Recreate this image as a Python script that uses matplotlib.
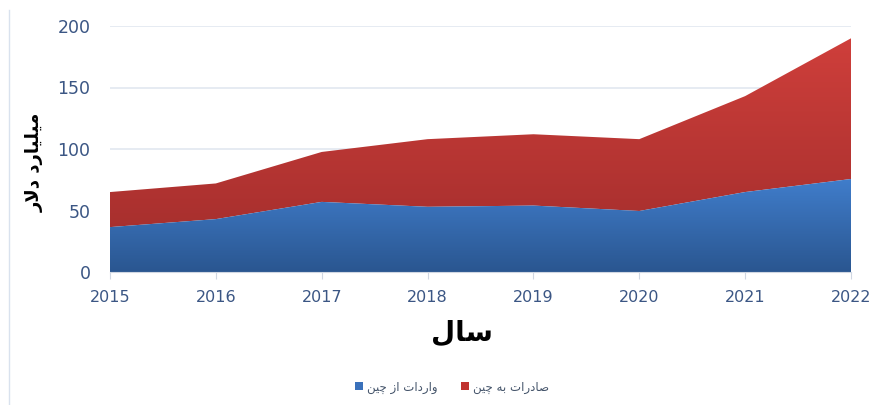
import numpy as np
import matplotlib.pyplot as plt
from matplotlib.colors import LinearSegmentedColormap
from matplotlib.lines import Line2D
from matplotlib.patches import Patch

years = [2015, 2016, 2017, 2018, 2019, 2020, 2021, 2022]
imports_from_china = [36.5, 43, 57, 53, 54, 49.6, 65, 75.6]   # blue, bottom
exports_to_china = [28.5, 29, 40.6, 55, 58, 58.4, 78, 114.4]  # red, stacked on top

ylabel_txt = "میلیارد دلار"
xlabel_txt = "سال"
legend_imports = "واردات از چین"
legend_exports = "صادرات به چین"

# --- minimal Arabic/Persian shaping (matplotlib has no text shaping) ---
# letter: (isolated, final, initial, medial); None initial => right-joining only
FORMS = {
    "ا": ("\uFE8D", "\uFE8E", None, None),
    "ب": ("\uFE8F", "\uFE90", "\uFE91", "\uFE92"),
    "ت": ("\uFE95", "\uFE96", "\uFE97", "\uFE98"),
    "د": ("\uFEA9", "\uFEAA", None, None),
    "ر": ("\uFEAD", "\uFEAE", None, None),
    "ز": ("\uFEAF", "\uFEB0", None, None),
    "س": ("\uFEB1", "\uFEB2", "\uFEB3", "\uFEB4"),
    "ص": ("\uFEB9", "\uFEBA", "\uFEBB", "\uFEBC"),
    "ل": ("\uFEDD", "\uFEDE", "\uFEDF", "\uFEE0"),
    "م": ("\uFEE1", "\uFEE2", "\uFEE3", "\uFEE4"),
    "ن": ("\uFEE5", "\uFEE6", "\uFEE7", "\uFEE8"),
    "ه": ("\uFEE9", "\uFEEA", "\uFEEB", "\uFEEC"),
    "و": ("\uFEED", "\uFEEE", None, None),
    "ی": ("\uFBFC", "\uFBFD", "\uFEF3", "\uFEF4"),
    "چ": ("\uFB7A", "\uFB7B", "\uFB7C", "\uFB7D"),
}
LAM_ALEF = ("\uFEFB", "\uFEFC")


def shape(text):
    words = []
    for word in text.split(" "):
        # merge lam + alef
        chars = []
        i = 0
        while i < len(word):
            if word[i] == "ل" and i + 1 < len(word) and word[i + 1] == "ا":
                chars.append("LA")
                i += 2
            else:
                chars.append(word[i])
                i += 1

        def joins_left(c):
            return c != "LA" and FORMS[c][2] is not None

        out = []
        for k, c in enumerate(chars):
            prev_joins = k > 0 and joins_left(chars[k - 1])
            next_exists = k + 1 < len(chars)
            if c == "LA":
                out.append(LAM_ALEF[1] if prev_joins else LAM_ALEF[0])
                continue
            iso, fin, ini, med = FORMS[c]
            can_left = ini is not None and next_exists
            if prev_joins and can_left:
                out.append(med)
            elif prev_joins:
                out.append(fin)
            elif can_left:
                out.append(ini)
            else:
                out.append(iso)
        words.append("".join(out))
    # visual order for left-to-right rendering
    return " ".join(words)[::-1]


TICK_COLOR = "#3b5684"
GRID_COLOR = "#e1e7f0"

fig = plt.figure(figsize=(8.74, 4.05), dpi=100)
ax = fig.add_axes([110 / 874, 133 / 405, 741 / 874, 246 / 405])

x = np.array(years, dtype=float)
blue = np.array(imports_from_china)
total = blue + np.array(exports_to_china)


def gradient_fill(lower, upper, top_col, bot_col, ymax):
    poly = ax.fill_between(x, lower, upper, color="none", lw=0, zorder=2)
    cmap = LinearSegmentedColormap.from_list("g", [bot_col, top_col])
    grad = np.linspace(0, 1, 256).reshape(-1, 1)
    im = ax.imshow(grad, cmap=cmap, aspect="auto", origin="lower",
                   extent=[x[0], x[-1], 0, ymax], zorder=2)
    im.set_clip_path(poly.get_paths()[0], transform=ax.transData)


gradient_fill(blue, total, "#cf3f3b", "#9f2c2b", total.max())
gradient_fill(0, blue, "#407dcb", "#2a5690", blue.max())

ax.set_xlim(x[0], x[-1])
ax.set_ylim(0, 200)
ax.set_yticks([0, 50, 100, 150, 200])
ax.set_xticks(years)
ax.grid(axis="y", color=GRID_COLOR, lw=1.2, zorder=0)
ax.set_axisbelow(True)
for s in ["top", "right", "left"]:
    ax.spines[s].set_visible(False)
ax.spines["bottom"].set_color("#d0d7e2")
ax.tick_params(axis="y", length=0, pad=14, labelsize=12.5, labelcolor=TICK_COLOR)
ax.tick_params(axis="x", length=5, color="#d0d7e2", pad=8, labelsize=11.5,
               labelcolor=TICK_COLOR)

fig.text(35 / 874, 1 - 162 / 405, shape(ylabel_txt), rotation=90,
         ha="center", va="center", fontsize=13, fontweight="bold",
         family="DejaVu Sans")
fig.text(462 / 874, 1 - 333 / 405, shape(xlabel_txt), ha="center",
         va="center", fontsize=20, fontweight="bold", family="DejaVu Sans")

handles = [Patch(facecolor="#3a71bb"), Patch(facecolor="#c0332f")]
fig.legend(handles, [shape(legend_imports), shape(legend_exports)],
           loc="center", bbox_to_anchor=(452 / 874, 1 - 387 / 405), ncol=2,
           frameon=False, fontsize=8.5, handlelength=0.7, handleheight=0.7,
           handletextpad=0.3, columnspacing=2.0, labelcolor="#44546a")

# chart frame edge on the left
fig.add_artist(Line2D([9 / 874, 9 / 874], [0, 1 - 10 / 405],
                      transform=fig.transFigure, color="#d9e2ee", lw=1))

fig.savefig("out.png", dpi=100)
